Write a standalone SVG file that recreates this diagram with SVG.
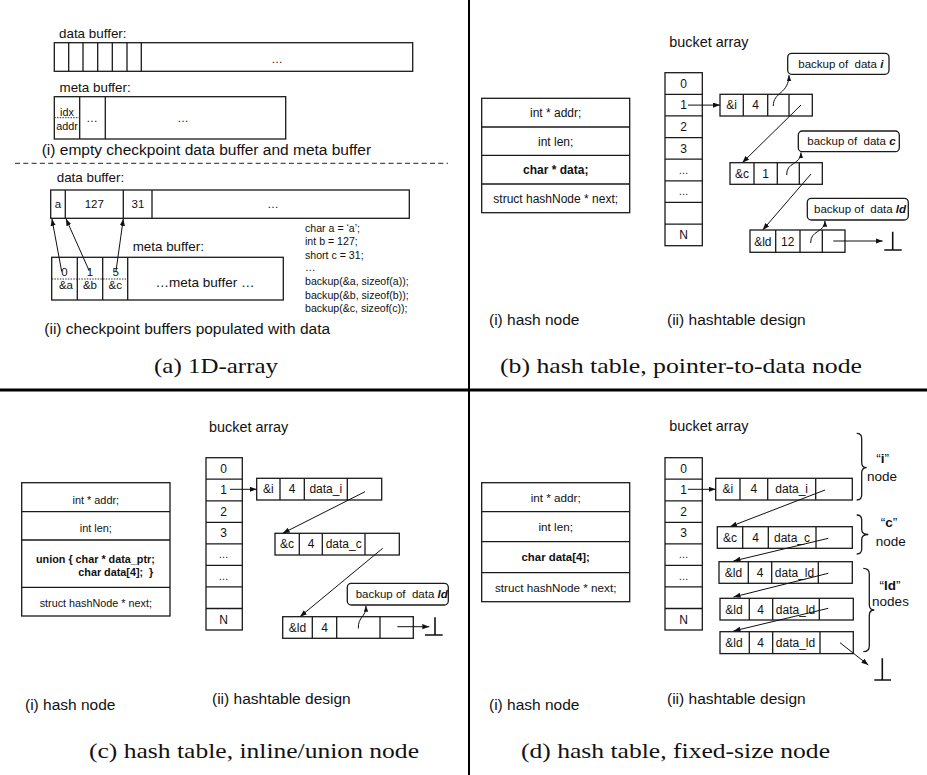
<svg xmlns="http://www.w3.org/2000/svg" width="927" height="775" viewBox="0 0 927 775">
<style>
text{font-family:"Liberation Sans",Arial,sans-serif;fill:#111}
.box{fill:none;stroke:#1a1a1a;stroke-width:1.3}
.ln{stroke:#1a1a1a;stroke-width:1.3;fill:none}
.ar{stroke:#111;stroke-width:1;fill:none;marker-end:url(#ah)}
.cv{stroke:#111;stroke-width:1;fill:none;marker-end:url(#ah2)}
.nul{stroke:#111;stroke-width:1.6;fill:none}
.lbl{font-size:13.4px}
.sub{font-size:15.5px}
.cell{font-size:11.5px;text-anchor:middle}
.st{font-size:12px;text-anchor:middle}
.nd{font-size:12px;text-anchor:middle}
.co{font-size:11.5px;white-space:pre}
.code{font-size:10.6px}
.cap{font-family:"Liberation Serif","Times New Roman",serif;font-size:22px}
.ba{font-size:14.4px}
.br{font-size:13.5px;text-anchor:middle}
.dot{stroke:#333;stroke-width:1;stroke-dasharray:1.5 1.2}
</style>
<defs>
<marker id="ah" markerWidth="8" markerHeight="6" refX="7" refY="2.6" orient="auto" markerUnits="userSpaceOnUse"><path d="M0,0 L7,2.6 L0,5.2 z" fill="#111"/></marker>
<marker id="ah2" markerWidth="8" markerHeight="6" refX="6" refY="2.2" orient="auto" markerUnits="userSpaceOnUse"><path d="M0,0 L6,2.2 L0,4.4 z" fill="#111"/></marker>
</defs>

<!-- dividers -->
<g id="dividers">
<line x1="469" y1="0" x2="469" y2="775" stroke="#000" stroke-width="2"/>
<line x1="0" y1="390" x2="927" y2="390" stroke="#000" stroke-width="3"/>
</g>

<!-- ===== Panel (a) ===== -->
<g id="a-empty-data">
<text class="lbl" x="59" y="37.5">data buffer:</text>
<rect class="box" x="54.3" y="42.7" width="358.4" height="28.6"/>
<path class="ln" d="M68.7,42.7V71.3M83,42.7V71.3M97.7,42.7V71.3M112.3,42.7V71.3M127,42.7V71.3M141.3,42.7V71.3"/>
<text class="cell" x="277" y="63">…</text>
</g>
<g id="a-empty-meta">
<text class="lbl" x="59.5" y="92.3">meta buffer:</text>
<rect class="box" x="54.3" y="96.7" width="231.4" height="42.3"/>
<path class="ln" d="M79.7,96.7V139M105.3,96.7V139"/>
<line class="dot" x1="54.3" y1="117.7" x2="79.7" y2="117.7"/>
<text class="cell" x="67" y="116" style="font-size:10.8px">idx</text>
<text class="cell" x="67" y="130" style="font-size:10.8px">addr</text>
<text class="cell" x="92" y="122">…</text>
<text class="cell" x="183" y="122">…</text>
</g>
<text class="sub" x="41.7" y="155">(i) empty checkpoint data buffer and meta buffer</text>
<line x1="15" y1="163.3" x2="448" y2="163.3" stroke="#222" stroke-width="1" stroke-dasharray="5 3.3"/>

<g id="a-data">
<text class="lbl" x="56.7" y="181.5">data buffer:</text>
<rect class="box" x="50.7" y="190" width="358.6" height="28.3"/>
<path class="ln" d="M65.3,190V218.3M123.3,190V218.3M152,190V218.3"/>
<text class="cell" x="58" y="208.3">a</text>
<text class="cell" x="94.3" y="208.3">127</text>
<text class="cell" x="138" y="208.3">31</text>
<text class="cell" x="273" y="208">…</text>
</g>
<g id="a-meta">
<text class="lbl" x="132.7" y="251">meta buffer:</text>
<rect class="box" x="51.7" y="257.3" width="231.6" height="42.7"/>
<path class="ln" d="M77.3,257.3V300M102.7,257.3V300M127.7,257.3V300"/>
<line class="dot" x1="51.7" y1="279" x2="127.7" y2="279"/>
<text class="cell" x="64.5" y="275.5">0</text>
<text class="cell" x="90" y="275.5">1</text>
<text class="cell" x="115.7" y="275.5">5</text>
<text class="cell" x="66" y="288.8">&amp;a</text>
<text class="cell" x="90" y="288.8">&amp;b</text>
<text class="cell" x="115.3" y="288.8">&amp;c</text>
<text x="205" y="286.7" style="font-size:13.5px;text-anchor:middle">…meta buffer …</text>
</g>
<g id="a-code">
<text class="code" x="305" y="232">char a = ‘a’;</text>
<text class="code" x="305" y="245.3">int b = 127;</text>
<text class="code" x="305" y="258.6">short c = 31;</text>
<text class="code" x="305" y="271.4">…</text>
<text class="code" x="305" y="285.2">backup(&amp;a, sizeof(a));</text>
<text class="code" x="305" y="298.5">backup(&amp;b, sizeof(b));</text>
<text class="code" x="305" y="311.8">backup(&amp;c, sizeof(c));</text>
</g>
<g id="a-connectors">
<line class="ar" x1="61.7" y1="271.5" x2="51.9" y2="218.8"/>
<line class="ar" x1="89.3" y1="271" x2="66" y2="218.8"/>
<line class="ar" x1="116" y1="271" x2="123.3" y2="218.8"/>
</g>
<text class="sub" x="44.3" y="334">(ii) checkpoint buffers populated with data</text>
<text class="cap" x="154" y="373" textLength="124" lengthAdjust="spacingAndGlyphs">(a) 1D-array</text>

<!-- ===== Panel (b) ===== -->
<g id="b-hashnode">
<rect class="box" x="481.7" y="98.3" width="148" height="114.4"/>
<path class="ln" d="M481.7,127H629.7M481.7,155.3H629.7M481.7,184H629.7"/>
<text class="st" x="555.7" y="117">int * addr;</text>
<text class="st" x="555.7" y="145.5">int len;</text>
<text class="st" x="555.7" y="174" font-weight="bold">char * data;</text>
<text class="st" x="555.7" y="202.5">struct hashNode * next;</text>
</g>
<text class="ba" x="669.3" y="47">bucket array</text>
<g id="b-bucket">
<rect class="box" x="665" y="72.7" width="37.3" height="173"/>
<path class="ln" d="M665,94.3H702.3M665,115.9H702.3M665,137.6H702.3M665,159.2H702.3M665,180.8H702.3M665,202.4H702.3M665,224.1H702.3"/>
<text class="nd" x="683.5" y="87.8">0</text>
<text class="nd" x="683.5" y="109.4">1</text>
<text class="nd" x="683.5" y="131.1">2</text>
<text class="nd" x="683.5" y="152.7">3</text>
<text class="nd" x="683.5" y="173.5" style="font-size:10px">…</text>
<text class="nd" x="683.5" y="195.1" style="font-size:10px">…</text>
<text class="nd" x="683.5" y="239.2">N</text>
</g>
<g id="b-node-i">
<rect class="box" x="720" y="94.3" width="92.3" height="21.7"/>
<path class="ln" d="M743.3,94.3V116M767.7,94.3V116M789,94.3V116"/>
<text class="nd" x="731.7" y="109.4">&amp;i</text>
<text class="nd" x="755.5" y="109.4">4</text>
</g>
<g id="b-node-c">
<rect class="box" x="730" y="162.7" width="92.3" height="21.6"/>
<path class="ln" d="M754,162.7V184.3M777.3,162.7V184.3M799.3,162.7V184.3"/>
<text class="nd" x="742" y="177.8">&amp;c</text>
<text class="nd" x="765.7" y="177.8">1</text>
</g>
<g id="b-node-ld">
<rect class="box" x="750" y="230" width="95" height="22.3"/>
<path class="ln" d="M775.7,230V252.3M800,230V252.3M822.3,230V252.3"/>
<text class="nd" x="762.8" y="245.5">&amp;ld</text>
<text class="nd" x="787.8" y="245.5">12</text>
</g>
<g id="b-callout-i">
<rect class="box" x="787.7" y="53.3" width="101.3" height="21" rx="4"/>
<text class="co" x="798.3" y="67.8">backup of  data <tspan font-weight="bold" font-style="italic">i</tspan></text>
</g>
<g id="b-callout-c">
<rect class="box" x="798.3" y="131" width="101" height="20.7" rx="4"/>
<text class="co" x="807.3" y="145.3">backup of  data <tspan font-weight="bold" font-style="italic">c</tspan></text>
</g>
<g id="b-callout-ld">
<rect class="box" x="807.3" y="198.3" width="101" height="21.7" rx="4"/>
<text class="co" x="814" y="213.3">backup of  data <tspan font-weight="bold" font-style="italic">ld</tspan></text>
</g>
<g id="b-connectors">
<line class="ar" x1="688" y1="105.1" x2="720" y2="105.1"/>
<line class="ar" x1="801" y1="105" x2="742.3" y2="162.7"/>
<line class="ar" x1="811" y1="174" x2="762.7" y2="230"/>
<path class="cv" d="M773.3,106 C773,92 789,94 789,75"/>
<path class="cv" d="M786.7,175 C786,162 801,165 801,152.4"/>
<path class="cv" d="M810.7,243 C810,230 825,233 825,220.7"/>
<line class="ar" x1="833.3" y1="241" x2="882.7" y2="241"/>
<path class="nul" d="M892.7,231.7V250M884.3,250H901.7"/>
</g>
<text class="sub" x="489" y="325">(i) hash node</text>
<text class="sub" x="667" y="325">(ii) hashtable design</text>
<text class="cap" x="500" y="373" textLength="362" lengthAdjust="spacingAndGlyphs">(b) hash table, pointer-to-data node</text>

<!-- ===== Panel (c) ===== -->
<g id="c-hashnode">
<rect class="box" x="21.7" y="482.7" width="148.3" height="133.3"/>
<path class="ln" d="M21.7,511.7H170M21.7,540H170M21.7,587.3H170"/>
<text class="st" x="95.8" y="504" style="font-size:10.9px">int * addr;</text>
<text class="st" x="95.8" y="531.8" style="font-size:10.9px">int len;</text>
<text x="36" y="562.5" font-weight="bold" style="font-size:10.8px;white-space:pre">union { char * data_ptr;</text>
<text x="78.3" y="575.8" font-weight="bold" style="font-size:10.8px;white-space:pre">char data[4];  }</text>
<text class="st" x="95.8" y="606.5" style="font-size:10.8px">struct hashNode * next;</text>
</g>
<text class="ba" x="209" y="431.7">bucket array</text>
<g id="c-bucket">
<rect class="box" x="206" y="457.7" width="36.3" height="172.3"/>
<path class="ln" d="M206,479.2H242.3M206,500.8H242.3M206,522.3H242.3M206,543.9H242.3M206,565.4H242.3M206,586.9H242.3M206,608.5H242.3"/>
<text class="nd" x="223.5" y="472.8">0</text>
<text class="nd" x="223.5" y="494.3">1</text>
<text class="nd" x="223.5" y="515.8">2</text>
<text class="nd" x="223.5" y="537.4">3</text>
<text class="nd" x="223.5" y="558" style="font-size:10px">…</text>
<text class="nd" x="223.5" y="579.5" style="font-size:10px">…</text>
<text class="nd" x="223.5" y="623.5">N</text>
</g>
<g id="c-node-i">
<rect class="box" x="256.7" y="478.3" width="125" height="21.7"/>
<path class="ln" d="M280,478.3V500M304.3,478.3V500M347.3,478.3V500"/>
<text class="nd" x="268.3" y="493.4">&amp;i</text>
<text class="nd" x="292" y="493.4">4</text>
<text class="nd" x="325.8" y="493.4">data_i</text>
</g>
<g id="c-node-c">
<rect class="box" x="275" y="533.3" width="124.3" height="21.7"/>
<path class="ln" d="M299.3,533.3V555M322.3,533.3V555M365,533.3V555"/>
<text class="nd" x="287" y="548.4">&amp;c</text>
<text class="nd" x="311" y="548.4">4</text>
<text class="nd" x="343.7" y="548.4">data_c</text>
</g>
<g id="c-node-ld">
<rect class="box" x="282.7" y="616.7" width="130.6" height="21.6"/>
<path class="ln" d="M312.3,616.7V638.3M336.7,616.7V638.3M380,616.7V638.3"/>
<text class="nd" x="297.5" y="631.8">&amp;ld</text>
<text class="nd" x="324.5" y="631.8">4</text>
</g>
<g id="c-callout-ld">
<rect class="box" x="347.3" y="583.3" width="101" height="21.7" rx="4"/>
<text class="co" x="355.7" y="598.3">backup of  data <tspan font-weight="bold" font-style="italic">ld</tspan></text>
</g>
<g id="c-connectors">
<line class="ar" x1="230" y1="489.3" x2="256.7" y2="489.3"/>
<line class="ar" x1="365" y1="491.7" x2="282.7" y2="533.3"/>
<line class="ar" x1="382.7" y1="548.3" x2="300" y2="616.7"/>
<path class="cv" d="M358.3,628.5 C358,616 366,618 366,605.7"/>
<line class="ar" x1="397.3" y1="626.7" x2="429.3" y2="626.7"/>
<path class="nul" d="M435,617.3V635M425,635H442.7"/>
</g>
<text class="sub" x="25" y="710">(i) hash node</text>
<text class="sub" x="212" y="704">(ii) hashtable design</text>
<text class="cap" x="89" y="758" textLength="330" lengthAdjust="spacingAndGlyphs">(c) hash table, inline/union node</text>

<!-- ===== Panel (d) ===== -->
<g id="d-hashnode">
<rect class="box" x="481.7" y="482.7" width="148" height="119"/>
<path class="ln" d="M481.7,511.7H629.7M481.7,541.7H629.7M481.7,572.7H629.7"/>
<text class="st" x="555.7" y="502" style="font-size:11.7px">int * addr;</text>
<text class="st" x="555.7" y="531" style="font-size:11.7px">int len;</text>
<text class="st" x="555.7" y="561" font-weight="bold" style="font-size:11.4px">char data[4];</text>
<text class="st" x="555.7" y="591.5" style="font-size:11.7px">struct hashNode * next;</text>
</g>
<text class="ba" x="669.3" y="431">bucket array</text>
<g id="d-bucket">
<rect class="box" x="665" y="457.7" width="37.3" height="172.3"/>
<path class="ln" d="M665,479.2H702.3M665,500.8H702.3M665,522.3H702.3M665,543.9H702.3M665,565.4H702.3M665,586.9H702.3M665,608.5H702.3"/>
<text class="nd" x="683.5" y="472.8">0</text>
<text class="nd" x="683.5" y="494.3">1</text>
<text class="nd" x="683.5" y="515.8">2</text>
<text class="nd" x="683.5" y="537.4">3</text>
<text class="nd" x="683.5" y="558" style="font-size:10px">…</text>
<text class="nd" x="683.5" y="579.5" style="font-size:10px">…</text>
<text class="nd" x="683.5" y="623.5">N</text>
</g>
<g id="d-node-i">
<rect class="box" x="715.7" y="478.3" width="136.6" height="21.7"/>
<path class="ln" d="M740,478.3V500M767.7,478.3V500M815.7,478.3V500"/>
<text class="nd" x="727.8" y="493.4">&amp;i</text>
<text class="nd" x="753.8" y="493.4">4</text>
<text class="nd" x="791.7" y="493.4">data_i</text>
</g>
<g id="d-node-c">
<rect class="box" x="717.3" y="526.7" width="135" height="21.6"/>
<path class="ln" d="M742.7,526.7V548.3M768.3,526.7V548.3M816,526.7V548.3"/>
<text class="nd" x="730" y="541.8">&amp;c</text>
<text class="nd" x="755.5" y="541.8">4</text>
<text class="nd" x="792" y="541.8">data_c</text>
</g>
<g id="d-node-ld1">
<rect class="box" x="719" y="561.7" width="133.3" height="21.6"/>
<path class="ln" d="M748.3,561.7V583.3M771.7,561.7V583.3M818.3,561.7V583.3"/>
<text class="nd" x="733.5" y="577">&amp;ld</text>
<text class="nd" x="760" y="577">4</text>
<text class="nd" x="794.5" y="577">data_ld</text>
</g>
<g id="d-node-ld2">
<rect class="box" x="720" y="598.3" width="133.3" height="21.7"/>
<path class="ln" d="M749.3,598.3V620M772.7,598.3V620M819.3,598.3V620"/>
<text class="nd" x="734" y="613.5">&amp;ld</text>
<text class="nd" x="760.5" y="613.5">4</text>
<text class="nd" x="795.5" y="613.5">data_ld</text>
</g>
<g id="d-node-ld3">
<rect class="box" x="720" y="631.7" width="133.3" height="21.9"/>
<path class="ln" d="M749.3,631.7V653.6M772.7,631.7V653.6M820,631.7V653.6"/>
<text class="nd" x="734" y="647.2">&amp;ld</text>
<text class="nd" x="760.5" y="647.2">4</text>
<text class="nd" x="795.5" y="647.2">data_ld</text>
</g>
<g id="d-connectors">
<line class="ar" x1="688" y1="489.3" x2="715.7" y2="489.3"/>
<line class="ar" x1="825" y1="490" x2="730" y2="526.7"/>
<line class="ar" x1="828.3" y1="538.3" x2="733.5" y2="561"/>
<line class="ar" x1="828.3" y1="573.3" x2="733.5" y2="597"/>
<line class="ar" x1="828.3" y1="608.3" x2="733.5" y2="631"/>
<line class="ar" x1="840" y1="642.7" x2="868.3" y2="665"/>
<path class="nul" d="M882.3,658.3V680M874.3,680H891"/>
</g>
<g id="d-braces">
<path class="ln" stroke-width="1" d="M856.7,433.3 Q861.7,433.3 861.7,438.5 L861.7,462.5 Q861.7,467.7 866.7,467.7 Q861.7,467.7 861.7,472.9 L861.7,494.8 Q861.7,500 856.7,500"/>
<path class="ln" stroke-width="1" d="M856.7,515 Q861.7,515 861.7,520 L861.7,529.5 Q861.7,534.5 868.3,534.5 Q861.7,534.5 861.7,539.5 L861.7,549 Q861.7,554 856.7,554"/>
<path class="ln" stroke-width="1" d="M863.3,568.3 Q869.3,568.3 869.3,574 L869.3,604.5 Q869.3,610 874.3,610 Q869.3,610 869.3,615.5 L869.3,646 Q869.3,651.7 863.3,651.7"/>
<text class="br" x="882.7" y="463">“<tspan font-weight="bold">i</tspan>”</text>
<text class="br" x="882" y="481">node</text>
<text class="br" x="889" y="527">“<tspan font-weight="bold">c</tspan>”</text>
<text class="br" x="890.8" y="545.7">node</text>
<text class="br" x="890" y="590">“<tspan font-weight="bold">ld</tspan>”</text>
<text class="br" x="890.5" y="606">nodes</text>
</g>
<text class="sub" x="489" y="710">(i) hash node</text>
<text class="sub" x="667" y="704">(ii) hashtable design</text>
<text class="cap" x="521" y="758" textLength="309" lengthAdjust="spacingAndGlyphs">(d) hash table, fixed-size node</text>
</svg>
